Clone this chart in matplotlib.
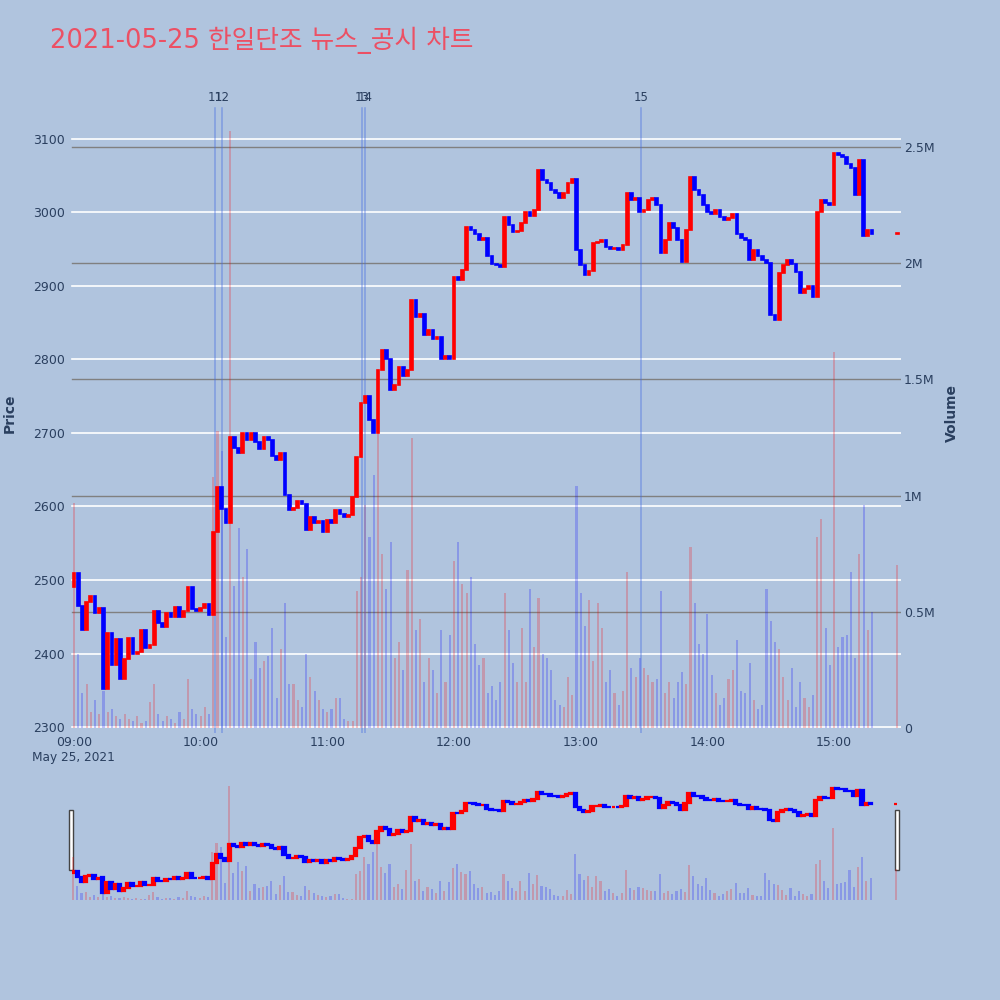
import matplotlib
matplotlib.use("Agg")
import matplotlib.pyplot as plt
from matplotlib.patches import Rectangle
from matplotlib.transforms import blended_transform_factory

# bars every two minutes after 09:00, plus the 15:30 closing auction
minutes = list(range(0, 380, 2)) + [390]
first_open = 2490
close = [
    2510, 2465, 2432, 2470, 2478, 2455, 2462, 2352, 2428, 2385,
    2420, 2366, 2392, 2421, 2400, 2402, 2432, 2408, 2412, 2458,
    2441, 2436, 2455, 2450, 2463, 2450, 2458, 2490, 2460, 2458,
    2462, 2468, 2452, 2565, 2627, 2596, 2578, 2695, 2680, 2672,
    2700, 2690, 2700, 2688, 2678, 2695, 2690, 2668, 2663, 2672,
    2615, 2595, 2598, 2608, 2603, 2568, 2585, 2578, 2580, 2565,
    2582, 2578, 2595, 2590, 2585, 2588, 2613, 2667, 2740, 2750,
    2718, 2700, 2786, 2813, 2800, 2758, 2765, 2790, 2778, 2785,
    2880, 2857, 2862, 2833, 2840, 2827, 2830, 2800, 2805, 2800,
    2912, 2908, 2922, 2980, 2976, 2970, 2962, 2965, 2940, 2930,
    2928, 2925, 2994, 2983, 2973, 2975, 2986, 3000, 2995, 3003,
    3058, 3044, 3040, 3030, 3026, 3020, 3026, 3040, 3045, 2949,
    2928, 2915, 2920, 2958, 2960, 2962, 2953, 2950, 2952, 2948,
    2955, 3026, 3016, 3020, 3000, 3003, 3017, 3020, 3010, 2945,
    2962, 2986, 2979, 2962, 2932, 2976, 3048, 3030, 3024, 3010,
    3000, 2997, 3003, 2994, 2990, 2992, 2997, 2970, 2965, 2962,
    2935, 2949, 2940, 2935, 2931, 2860, 2853, 2918, 2928, 2935,
    2930, 2919, 2890, 2895, 2900, 2885, 3000, 3017, 3013, 3010,
    3081, 3078, 3075, 3065, 3060, 3024, 3071, 2967, 2976, 2970,
    2972,
]
# volume in thousands of shares
volume_k = [
    970, 320, 150, 190, 70, 120, 60, 160, 70, 80,
    50, 40, 60, 40, 30, 50, 20, 30, 110, 190,
    60, 30, 50, 40, 20, 70, 40, 210, 80, 60,
    50, 90, 60, 1080, 1280, 1190, 390, 2570, 610, 860,
    650, 770, 210, 370, 260, 290, 310, 430, 130, 340,
    540, 190, 190, 120, 90, 320, 220, 160, 120, 80,
    70, 80, 130, 130, 40, 30, 30, 590, 650, 960,
    820, 1090, 1410, 750, 600, 800, 300, 370, 250, 680,
    1250, 420, 470, 200, 300, 250, 150, 420, 200, 400,
    720, 800, 620, 580, 650, 360, 270, 300, 150, 180,
    120, 200, 580, 420, 280, 200, 430, 200, 600, 350,
    560, 320, 300, 250, 120, 100, 90, 220, 140, 1040,
    580, 440, 550, 290, 540, 430, 200, 250, 150, 100,
    160, 670, 260, 220, 300, 260, 230, 200, 210, 590,
    150, 200, 130, 200, 240, 190, 780, 540, 360, 320,
    490, 230, 150, 100, 130, 210, 250, 380, 160, 150,
    280, 120, 80, 100, 600, 460, 370, 340, 220, 120,
    260, 90, 200, 130, 90, 140, 820, 900, 430, 270,
    1620, 350, 390, 400, 670, 300, 750, 960, 420, 500,
    700,
]

news_min = [66.8, 70.3, 136.5, 137.9, 268.6]
news_labels = ["11", "12", "13", "14", "15"]

price_ticks = [2300, 2400, 2500, 2600, 2700, 2800, 2900, 3000, 3100]
vol_ticks = [0, 500000, 1000000, 1500000, 2000000, 2500000]
vol_tick_labels = ["0", "0.5M", "1M", "1.5M", "2M", "2.5M"]
hour_ticks = [0, 60, 120, 180, 240, 300, 360]
hour_labels = ["09:00", "10:00", "11:00", "12:00", "13:00", "14:00", "15:00"]

title = "2021-05-25 한일단조 뉴스_공시 차트"

opens = [first_open] + close[:-1]
volume = [v * 1000 for v in volume_k]
up = [c >= o for o, c in zip(opens, close)]
body_bottom = [min(o, c) for o, c in zip(opens, close)]
body_height = [abs(c - o) for o, c in zip(opens, close)]
candle_colors = ["#FF0000" if u else "#0000FF" for u in up]
vol_colors = [(1, 0, 0, 0.22) if u else (0, 0, 1, 0.22) for u in up]

BG = "#B0C4DE"
PLOT_BG = "#E5ECF6"
TXT = "#2a3f5f"

fig = plt.figure(figsize=(10, 10), dpi=100, facecolor=BG)

# main panel: volume (right) underneath, price (left) on top
ax = fig.add_axes([0.068, 0.267, 0.833, 0.637])
axv = ax.twinx()
ax.set_zorder(2)
axv.set_zorder(1)
ax.patch.set_visible(False)
axv.set_facecolor(PLOT_BG)

ax.set_xlim(-2.8, 391.7)
ax.set_ylim(2292, 3158)
axv.set_ylim(-21600, 2720000)

white_tr = blended_transform_factory(axv.transAxes, ax.transData)
for p in price_ticks:
    axv.plot([0.005, 1], [p, p], color="white", lw=1.2, transform=white_tr, zorder=0.5)
for v in vol_ticks[1:]:
    axv.axhline(v, xmin=0.005, color="#808080", lw=1, zorder=0.6)

axv.bar(minutes, volume, width=1.0, color=vol_colors, zorder=1)
ax.bar(minutes, body_height, bottom=body_bottom, width=1.3,
       color=candle_colors, edgecolor=candle_colors, linewidth=1.2, zorder=3)

# news markers
label_tr = blended_transform_factory(ax.transData, ax.transAxes)
for m, lab in zip(news_min, news_labels):
    ax.axvline(m, ymin=0, ymax=0.981, color="royalblue", alpha=0.45, lw=1.1, zorder=2)
    ax.text(m, 0.998, lab, transform=label_tr, ha="center", va="center",
            fontsize=8.5, color=TXT)

ax.set_yticks(price_ticks)
ax.set_yticklabels([str(p) for p in price_ticks])
axv.set_yticks(vol_ticks)
axv.set_yticklabels(vol_tick_labels)
ax.set_xticks(hour_ticks)
ax.set_xticklabels(hour_labels)
ax.tick_params(axis="both", length=0, labelsize=9, labelcolor=TXT, pad=2)
axv.tick_params(axis="y", length=0, labelsize=9, labelcolor=TXT, pad=2)
for a in (ax, axv):
    for s in a.spines.values():
        s.set_visible(False)

fig.text(0.073, 1 - 0.758, "May 25, 2021", ha="center", va="center", fontsize=8.7, color=TXT)
fig.text(0.010, 1 - 0.413, "Price", rotation=90, ha="center", va="center",
         fontsize=10, fontweight="bold", color=TXT)
fig.text(0.952, 1 - 0.413, "Volume", rotation=90, ha="center", va="center",
         fontsize=10, fontweight="bold", color=TXT)
fig.text(0.050, 1 - 0.040, title, ha="left", va="center", fontsize=18.5,
         color="#EC5064", family=["DejaVu Sans", "Noto Sans CJK KR"])

# range slider
rs = fig.add_axes([0.072, 0.100, 0.825, 0.120])
rsv = rs.twinx()
rs.set_zorder(2)
rsv.set_zorder(1)
rs.patch.set_visible(False)
rsv.set_facecolor(PLOT_BG)
rs.set_xlim(-0.5, 390.5)
rs.set_ylim(2306, 3138)
rsv.set_ylim(0, 2700000)
rsv.bar(minutes, volume, width=1.0, color=vol_colors)
rs.bar(minutes, body_height, bottom=body_bottom, width=1.6,
       color=candle_colors, edgecolor=candle_colors, linewidth=1.6)
for a in (rs, rsv):
    a.set_xticks([])
    a.set_yticks([])
    for s in a.spines.values():
        s.set_visible(False)

for hx in (0.069, 0.895):
    fig.add_artist(Rectangle((hx, 0.130), 0.004, 0.060, transform=fig.transFigure,
                             facecolor="white", edgecolor="#444444", lw=1))

fig.savefig("out.png", dpi=100, facecolor=BG)
